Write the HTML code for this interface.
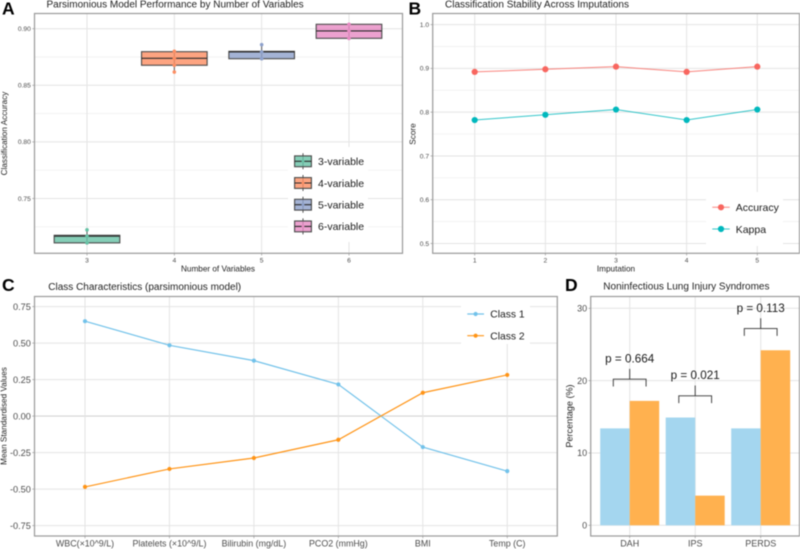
<!DOCTYPE html>
<html lang="en">
<head>
<meta charset="utf-8">
<title>Parsimonious model figure</title>
<style>
  html, body { margin: 0; padding: 0; background: #fff; }
  body { width: 800px; height: 549px; overflow: hidden; }
  svg { display: block; filter: blur(0.4px); font-family: "Liberation Sans", Arial, sans-serif; }
  .title { font-size: 10px; fill: #222; }
  .letter { font-size: 17.5px; font-weight: bold; fill: #000; }
  .axis-title { font-size: 8.2px; fill: #222; }
</style>
</head>
<body>
<svg id="figure" xmlns="http://www.w3.org/2000/svg" width="800" height="549" viewBox="0 0 800 549">
  <rect x="0" y="0" width="800" height="549" fill="#fff"/>
  <text class="letter" x="2" y="14.5">A</text>
  <text class="letter" x="408.5" y="14.5">B</text>
  <text class="letter" x="2" y="291">C</text>
  <text class="letter" x="565" y="291">D</text>
  <text class="title" x="46.5" y="7.5">Parsimonious Model Performance by Number of Variables</text>
  <text class="title" x="445" y="7.5">Classification Stability Across Imputations</text>
  <text class="title" x="48.3" y="290">Class Characteristics (parsimonious model)</text>
  <text class="title" x="603.3" y="289.5">Noninfectious Lung Injury Syndromes</text>
  <text class="axis-title" x="218" y="271.7" text-anchor="middle">Number of Variables</text>
  <text class="axis-title" text-anchor="middle" transform="translate(7 133.5) rotate(-90)">Classification Accuracy</text>
  <text class="axis-title" x="616" y="271.7" text-anchor="middle">Imputation</text>
  <text class="axis-title" text-anchor="middle" transform="translate(415.7 134) rotate(-90)">Score</text>
  <text class="axis-title" text-anchor="middle" transform="translate(6.5 416) rotate(-90)">Mean Standardised Values</text>
  <text class="axis-title" style="font-size:9.1px" text-anchor="middle" transform="translate(572.3 416) rotate(-90)">Percentage (%)</text>
</svg>
<script>
// Panel A data
const boxCategories = [3, 4, 5, 6];
const boxLabels = ['3-variable', '4-variable', '5-variable', '6-variable'];
const boxQ1 = [0.7108, 0.8677, 0.8735, 0.8915];
const boxMedian = [0.7167, 0.8738, 0.8795, 0.8980];
const boxQ3 = [0.7175, 0.8797, 0.8800, 0.9039];
const boxWhiskerLow = [0.7108, 0.8617, 0.8735, 0.8915];
const boxWhiskerHigh = [0.7223, 0.8797, 0.8859, 0.9039];
const boxPoints = [
  [0.7223, 0.7167, 0.7108],
  [0.8800, 0.8738, 0.8677, 0.8617],
  [0.8859, 0.8795, 0.8735],
  [0.9039, 0.8980, 0.8915]
];
const boxTicksY = [0.75, 0.80, 0.85, 0.90];
const boxMinorY = [0.725, 0.775, 0.825, 0.875];

// Panel B data
const imputations = [1, 2, 3, 4, 5];
const accuracyValues = [0.892, 0.898, 0.904, 0.892, 0.904];
const kappaValues = [0.782, 0.794, 0.806, 0.782, 0.806];
const stabilityTicksY = [0.5, 0.6, 0.7, 0.8, 0.9, 1.0];
const stabilityMinorY = [0.55, 0.65, 0.75, 0.85, 0.95];

// Panel C data
const classVariables = ['WBC(×10^9/L)', 'Platelets (×10^9/L)', 'Bilirubin (mg/dL)', 'PCO2 (mmHg)', 'BMI', 'Temp (C)'];
const class1Values = [0.65, 0.485, 0.38, 0.217, -0.212, -0.377];
const class2Values = [-0.485, -0.362, -0.287, -0.162, 0.16, 0.282];
const classTicksY = [-0.75, -0.50, -0.25, 0, 0.25, 0.50, 0.75];

// Panel D data
const syndromes = ['DAH', 'IPS', 'PERDS'];
const syndromeClass1 = [13.4, 14.9, 13.4];
const syndromeClass2 = [17.2, 4.1, 24.2];
const syndromePLabels = ['p = 0.664', 'p = 0.021', 'p = 0.113'];
const syndromeTicksY = [0, 10, 20, 30];

const svg = document.getElementById('figure');
const NS = 'http://www.w3.org/2000/svg';
function add(tag, attrs, text) {
  const el = document.createElementNS(NS, tag);
  for (const k in attrs) el.setAttribute(k, attrs[k]);
  if (text !== undefined) el.textContent = text;
  svg.appendChild(el);
  return el;
}

const pA = { l: 34.5, r: 402.5, t: 13.5, b: 253.3 };
const pB = { l: 432.7, r: 799.5, t: 13.5, b: 253.3 };
const pC = { l: 34.5, r: 557.3, t: 296.5, b: 536 };
const pD = { l: 590.7, r: 799.5, t: 296.5, b: 536 };

const xA = v => 87 + (v - 3) * 87.33;
const yA = v => 28.7 + (0.9 - v) / 0.05 * 56.6;
const xB = v => 474.7 + (v - 1) * 70.65;
const yB = v => 68.4 + (0.9 - v) * 437.7;
const xC = i => 85 + i * 84.45;
const yC = v => 416.1 - v * 146;
const xD = i => 629.7 + i * 65.5;
const yD = v => 525.3 - v * 7.233;

function frame(p, name) {
  const el = add('rect', { x: p.l, y: p.t, width: p.r - p.l, height: p.b - p.t, fill: 'none', stroke: '#999', 'stroke-width': 1.2 });
  
  
}
function hGrid(p, y, name, width, color) {
  const el = add('line', { x1: p.l, x2: p.r, y1: y, y2: y, stroke: color, 'stroke-width': width });
  
  
}
function vGrid(p, x, name) {
  const el = add('line', { x1: x, x2: x, y1: p.t, y2: p.b, stroke: '#e4e4e4', 'stroke-width': 1 });
  
  
}
function yTick(p, y, label, size, name) {
  const tick = add('line', { x1: p.l - 2.2, x2: p.l, y1: y, y2: y, stroke: '#999', 'stroke-width': 0.7 });
  
  
  const t = add('text', { x: p.l - 3.6, y: y + size * 0.35, 'text-anchor': 'end', 'font-size': size, fill: '#4d4d4d' }, label);
  
  
}
function xTick(p, x, label, size, base, name) {
  const tick = add('line', { x1: x, x2: x, y1: p.b, y2: p.b + 2.2, stroke: '#999', 'stroke-width': 0.7 });
  
  
  const t = add('text', { x: x, y: base, 'text-anchor': 'middle', 'font-size': size, fill: '#4d4d4d' }, label);
  
  
}
function legendBg(x, y, w, h, name) {
  const el = add('rect', { x: x, y: y, width: w, height: h, fill: '#fff' });
  
  
}
function legendText(x, y, label, size, name) {
  const el = add('text', { x: x, y: y + size * 0.36, 'font-size': size, fill: '#1a1a1a' }, label);
  
  
}
function drawBox(cx, hw, yQ1, yMed, yQ3, yLow, yHigh, color, name) {
  const whisker = add('line', { x1: cx, x2: cx, y1: yLow, y2: yHigh, stroke: '#555', 'stroke-width': 1 });
  
  
  const rect = add('rect', { x: cx - hw, y: yQ3, width: 2 * hw, height: yQ1 - yQ3, fill: color, 'fill-opacity': 0.8, stroke: '#4a4a4a', 'stroke-width': 1.1 });
  
  
  const med = add('line', { x1: cx - hw, x2: cx + hw, y1: yMed, y2: yMed, stroke: '#2b2b2b', 'stroke-width': 1.1 });
  
  
}

/* Panel A */
const boxColors = ['#66C2A5', '#FC8D62', '#8DA0CB', '#E78AC3'];
boxMinorY.forEach(v => hGrid(pA, yA(v), 'panel-a-minor', 0.7, '#eeeeee'));
boxTicksY.forEach(v => hGrid(pA, yA(v), 'panel-a-major', 1, '#e4e4e4'));
boxCategories.forEach(v => vGrid(pA, xA(v), 'panel-a'));
boxCategories.forEach((c, i) => {
  drawBox(xA(c), 32.8, yA(boxQ1[i]), yA(boxMedian[i]), yA(boxQ3[i]), yA(boxWhiskerLow[i]), yA(boxWhiskerHigh[i]), boxColors[i], 'box-' + c + '-variable');
  boxPoints[i].forEach(v => {
    const dot = add('circle', { cx: xA(c), cy: yA(v), r: 1.8, fill: boxColors[i] });
    
    
  });
});
legendBg(288, 147, 80, 95, 'panel-a');
boxLabels.forEach((label, i) => {
  const cy = 161.3 + i * 21.7;
  drawBox(303, 8.4, cy + 5.4, cy, cy - 5.4, cy + 8, cy - 8, boxColors[i], 'legend-key-' + label);
  const dot = add('circle', { cx: 303, cy: cy, r: 1.4, fill: boxColors[i] });
  
  
  legendText(318, cy, label, 10.5, 'panel-a');
});
frame(pA, 'panel-a');
boxTicksY.forEach(v => yTick(pA, yA(v), v.toFixed(2), 6.7, 'panel-a'));
boxCategories.forEach(v => xTick(pA, xA(v), String(v), 6.7, 262.4, 'panel-a'));

/* Panel B */
stabilityMinorY.forEach(v => hGrid(pB, yB(v), 'panel-b-minor', 0.7, '#eeeeee'));
stabilityTicksY.forEach(v => hGrid(pB, yB(v), 'panel-b-major', 1, '#e4e4e4'));
imputations.forEach(v => vGrid(pB, xB(v), 'panel-b'));
function stabilitySeries(values, color, name) {
  const line = add('polyline', { points: values.map((v, i) => xB(imputations[i]) + ',' + yB(v)).join(' '), fill: 'none', stroke: color, 'stroke-width': 1, 'stroke-opacity': 0.8 });
  
  
  values.forEach((v, i) => {
    const dot = add('circle', { cx: xB(imputations[i]), cy: yB(v), r: 3.1, fill: color });
    
    
  });
}
stabilitySeries(accuracyValues, '#F8665F', 'accuracy');
stabilitySeries(kappaValues, '#00B8BD', 'kappa');
legendBg(706, 192, 77, 54, 'panel-b');
[['Accuracy', '#F8665F', 207.3], ['Kappa', '#00B8BD', 229]].forEach(item => {
  const line = add('line', { x1: 712.3, x2: 729.7, y1: item[2], y2: item[2], stroke: item[1], 'stroke-width': 1, 'stroke-opacity': 0.8 });
  
  
  const dot = add('circle', { cx: 721, cy: item[2], r: 3.1, fill: item[1] });
  
  
  legendText(735.7, item[2], item[0], 10.5, 'panel-b');
});
frame(pB, 'panel-b');
stabilityTicksY.forEach(v => yTick(pB, yB(v), v.toFixed(1), 6.7, 'panel-b'));
imputations.forEach(v => xTick(pB, xB(v), String(v), 6.7, 262.4, 'panel-b'));

/* Panel C */
classTicksY.forEach(v => hGrid(pC, yC(v), 'panel-c', v === 0 ? 1.1 : 1, v === 0 ? '#d4d4d4' : '#e4e4e4'));
classVariables.forEach((c, i) => vGrid(pC, xC(i), 'panel-c'));
function classSeries(values, color, name) {
  const line = add('polyline', { points: values.map((v, i) => xC(i) + ',' + yC(v)).join(' '), fill: 'none', stroke: color, 'stroke-width': 1.2 });
  
  
  values.forEach((v, i) => {
    const dot = add('circle', { cx: xC(i), cy: yC(v), r: 2.1, fill: color });
    
    
  });
}
classSeries(class1Values, '#72C2EA', 'class-1');
classSeries(class2Values, '#FF9416', 'class-2');
legendBg(461, 297, 69, 47, 'panel-c');
[['Class 1', '#72C2EA', 314], ['Class 2', '#FF9416', 335.7]].forEach(item => {
  const line = add('line', { x1: 467.3, x2: 484, y1: item[2], y2: item[2], stroke: item[1], 'stroke-width': 1.2 });
  
  
  const dot = add('circle', { cx: 475.6, cy: item[2], r: 2.1, fill: item[1] });
  
  
  legendText(490.3, item[2], item[0], 10.3, 'panel-c');
});
frame(pC, 'panel-c');
classTicksY.forEach(v => yTick(pC, yC(v), v.toFixed(2), 9.2, 'panel-c'));
classVariables.forEach((c, i) => xTick(pC, xC(i), c, 8.9, 546.7, 'panel-c'));

/* Panel D */
syndromeTicksY.forEach(v => hGrid(pD, yD(v), 'panel-d', 1, '#e4e4e4'));
syndromes.forEach((c, i) => vGrid(pD, xD(i), 'panel-d'));
syndromes.forEach((c, i) => {
  const x = xD(i);
  const b1 = add('rect', { x: x - 29.5, y: yD(syndromeClass1[i]), width: 29.5, height: yD(0) - yD(syndromeClass1[i]), fill: '#A4D6EF' });
  
  
  const b2 = add('rect', { x: x, y: yD(syndromeClass2[i]), width: 29.5, height: yD(0) - yD(syndromeClass2[i]), fill: '#FFB14F' });
  
  
  const top = yD(Math.max(syndromeClass1[i], syndromeClass2[i]) + 3);
  const bracket = add('path', { d: `M${x - 16.4} ${top + 7.3}V${top}H${x + 16.4}V${top + 7.3}M${x} ${top}V${top - 10.3}`, fill: 'none', stroke: '#333', 'stroke-width': 0.9 });
  
  
  const p = add('text', { x: x, y: top - 16.6, 'text-anchor': 'middle', 'font-size': 11.7, fill: '#1a1a1a' }, syndromePLabels[i]);
  
  
});
frame(pD, 'panel-d');
syndromeTicksY.forEach(v => yTick(pD, yD(v), String(v), 9, 'panel-d'));
syndromes.forEach((c, i) => xTick(pD, xD(i), c, 9, 546.7, 'panel-d'));
</script>
</body>
</html>
